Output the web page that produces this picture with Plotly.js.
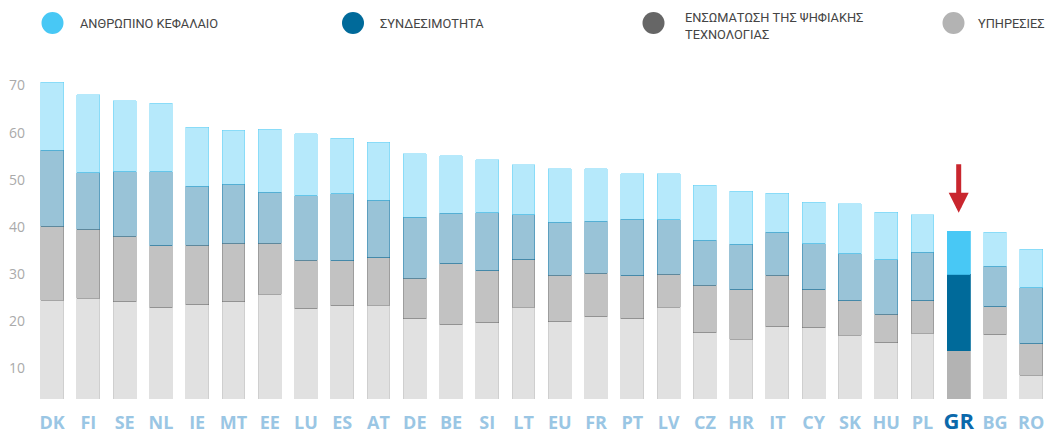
<!DOCTYPE html>
<html>
<head>
<meta charset="utf-8">
<script src="https://cdn.plot.ly/plotly-3.0.1.min.js"></script>
<style>
html,body{margin:0;padding:0;background:#fff;}
#chart{width:1045px;height:436px;}
</style>
</head>
<body>
<div id="chart"></div>
<script>
// ---- data ----
const countries = ['DK','FI','SE','NL','IE','MT','EE','LU','ES','AT','DE','BE','SI','LT','EU','FR','PT','LV','CZ','HR','IT','CY','SK','HU','PL','GR','BG','RO'];
const services     = [24.4,24.9,24.1,22.9,23.5,24.1,25.7,22.7,23.3,23.4,20.5,19.3,19.7,23.0,19.9,20.9,20.5,23.0,17.6,16.2,18.8,18.6,17.0,15.4,17.4,13.7,17.1,8.5];
const integration  = [15.8,14.6,13.9,13.1,12.6,12.4,10.8,10.2,9.5,10.1,8.6,12.9,11.0,10.0,9.9,9.3,9.1,7.0,10.0,10.5,11.0,8.1,7.3,6.1,6.9,0,6.0,6.7];
const connectivity = [16.1,12.0,13.7,15.7,12.5,12.6,10.9,13.7,14.3,12.2,13.0,10.7,12.3,9.6,11.2,11.0,12.0,11.5,9.6,9.6,9.1,9.7,10.0,11.5,10.3,16.3,8.6,11.9];
const humanCapital = [14.4,16.5,15.1,14.6,12.6,11.4,13.3,13.2,11.7,12.3,13.4,12.2,11.3,10.6,11.3,11.1,9.7,9.8,11.7,11.3,8.3,8.8,10.6,10.1,8.0,9.1,7.2,8.2];
const seriesNames = ['ΑΝΘΡΩΠΙΝΟ ΚΕΦΑΛΑΙΟ','ΣΥΝΔΕΣΙΜΟΤΗΤΑ','ΕΝΣΩΜΑΤΩΣΗ ΤΗΣ ΨΗΦΙΑΚΗΣ<br>ΤΕΧΝΟΛΟΓΙΑΣ','ΥΠΗΡΕΣΙΕΣ'];
const yTicks = [10,20,30,40,50,60,70];
const highlight = 'GR';

// ---- styling ----
const baseRGB = {
  human:[72,200,245],
  conn:[0,106,154],
  integ:[102,102,102],
  serv:[179,179,179]
};
function rgba(c,a){return 'rgba('+c[0]+','+c[1]+','+c[2]+','+a+')';}
function fills(c){return countries.map(k=>k===highlight?rgba(c,1):rgba(c,0.4));}
function lines(c){return countries.map(k=>k===highlight?rgba(c,1):rgba(c,0.5));}

function mk(name,vals,c){
  return {
    type:'bar', x:countries, y:vals, name:name, showlegend:false,
    marker:{color:fills(c), line:{color:lines(c), width:0.8}},
    hoverinfo:'x+y+name'
  };
}
const traces = [
  mk('ΥΠΗΡΕΣΙΕΣ',services,baseRGB.serv),
  mk('ΕΝΣΩΜΑΤΩΣΗ ΤΗΣ ΨΗΦΙΑΚΗΣ ΤΕΧΝΟΛΟΓΙΑΣ',integration,baseRGB.integ),
  mk('ΣΥΝΔΕΣΙΜΟΤΗΤΑ',connectivity,baseRGB.conn),
  mk('ΑΝΘΡΩΠΙΝΟ ΚΕΦΑΛΑΙΟ',humanCapital,baseRGB.human)
];

const tickText = countries.map(k=>k===highlight
  ? '<b><span style="font-size:22px;fill:#0b69ab;color:#0b69ab">'+k+'</span></b>'
  : '<b>'+k+'</b>');

// legend drawn as shapes + annotations
const legendX = [52.5, 353, 653.5, 953.5];
const legendTextX = [78, 378, 683, 976];
const legendColors = [baseRGB.human, baseRGB.conn, baseRGB.integ, baseRGB.serv];
const W = 1045, H = 436;
const shapes = legendX.map((cx,i)=>({
  type:'circle', xref:'paper', yref:'paper', layer:'above',
  x0:(cx-11-34)/(W-34), x1:(cx+11-34)/(W-34),
  y0:(399-(23+11))/(399-62), y1:(399-(23-11))/(399-62),
  fillcolor:rgba(legendColors[i],1), line:{width:0}
}));
const annotations = seriesNames.map((t,i)=>({
  xref:'paper', yref:'paper',
  x:(legendTextX[i]-34)/(W-34), y:(399-(i===2?26.5:23.5))/(399-62),
  xanchor:'left', yanchor:'middle', align:'left',
  text:t, showarrow:false,
  font:{family:'Roboto, sans-serif', size:12.8, color:'#444'}
}));
annotations.push({
  x:highlight, y:43.0, xref:'x', yref:'y', text:'', showarrow:true,
  ax:0, ay:-50, arrowcolor:'#c9262e', arrowwidth:5, arrowhead:2, arrowsize:0.8, standoff:0
});

const layout = {
  width:W, height:H,
  margin:{l:34, r:0, t:62, b:37},
  paper_bgcolor:'#fff', plot_bgcolor:'#fff',
  barmode:'stack', bargap:0.37,
  xaxis:{
    type:'category', range:[-0.5,27.38], tickmode:'array', tickvals:countries, ticktext:tickText,
    showgrid:false, zeroline:false, showline:false, ticks:'',
    tickfont:{family:'Open Sans, sans-serif', size:18, color:'#9ac6e4'},
    ticklabelstandoff:11, fixedrange:true
  },
  yaxis:{
    range:[3.5,75], tickmode:'array', tickvals:yTicks, ticktext:yTicks.map(String),
    showgrid:false, zeroline:false, showline:false, ticks:'',
    tickfont:{family:'Open Sans, sans-serif', size:14, color:'#aaaaaa'},
    ticklabelstandoff:8, fixedrange:true
  },
  shapes:shapes,
  annotations:annotations,
  showlegend:false
};
Plotly.newPlot('chart', traces, layout, {displayModeBar:false, staticPlot:true});
</script>
</body>
</html>
